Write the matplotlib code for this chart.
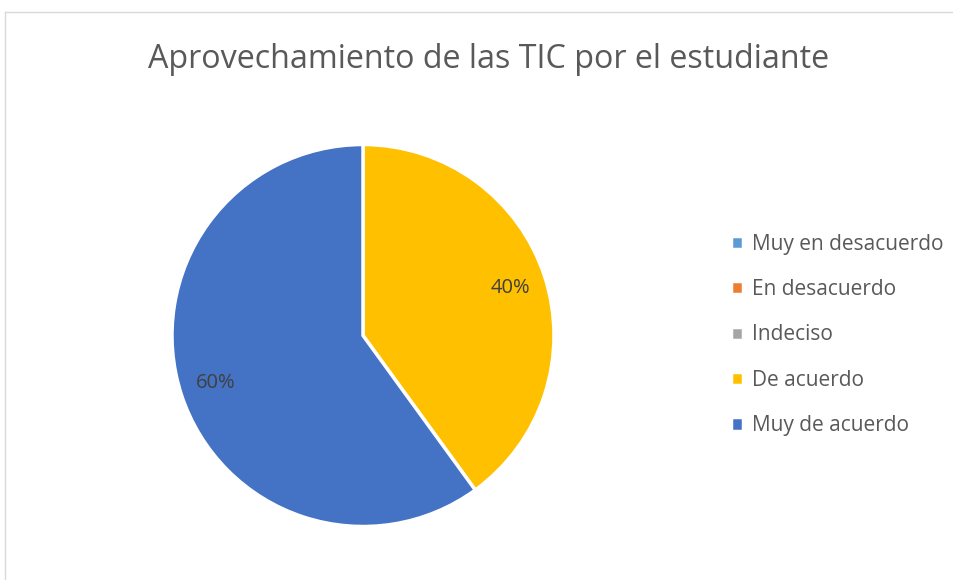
import matplotlib.pyplot as plt
from matplotlib.lines import Line2D

categories = ["Muy en desacuerdo", "En desacuerdo", "Indeciso", "De acuerdo", "Muy de acuerdo"]
values = [0, 0, 0, 40, 60]
colors = ["#5B9BD5", "#ED7D31", "#A5A5A5", "#FFC000", "#4472C4"]
title = "Aprovechamiento de las TIC por el estudiante"

plt.rcParams['font.family'] = ['Open Sans', 'DejaVu Sans']

W, H = 954, 580
fig = plt.figure(figsize=(W / 100, H / 100), dpi=100)

# chart frame (only top/left edges visible in the reference)
fig.add_artist(Line2D([5 / W, 1], [1 - 12 / H, 1 - 12 / H], color="#D9D9D9", lw=1))
fig.add_artist(Line2D([5 / W, 5 / W], [0, 1 - 12 / H], color="#D9D9D9", lw=1))

fig.text(489 / W, 1 - 60 / H, title, ha="center", va="center", fontsize=23.2, color="#595959")

cx, cy, r = 363, 335.5, 191
ax = fig.add_axes([(cx - r) / W, (H - cy - r) / H, 2 * r / W, 2 * r / H])


def fmt(p):
    return f"{p:.0f}%" if p > 0 else ""


wedges, texts, autotexts = ax.pie(values, colors=colors, startangle=90, counterclock=False,
                                  autopct=fmt, pctdistance=0.81,
                                  wedgeprops=dict(edgecolor="white", linewidth=2.5),
                                  textprops=dict(fontsize=14.5, color="#404040"))
ax.set_xlim(-1, 1)
ax.set_ylim(-1, 1)
ax.set_aspect("equal")

fig.legend(wedges, categories, loc="center left", bbox_to_anchor=(712 / W, 1 - 335 / H),
           frameon=False, fontsize=15, labelcolor="#595959",
           handlelength=0.6, handleheight=0.6, handletextpad=0.4, labelspacing=1.17)

fig.savefig("out.png", dpi=100)
